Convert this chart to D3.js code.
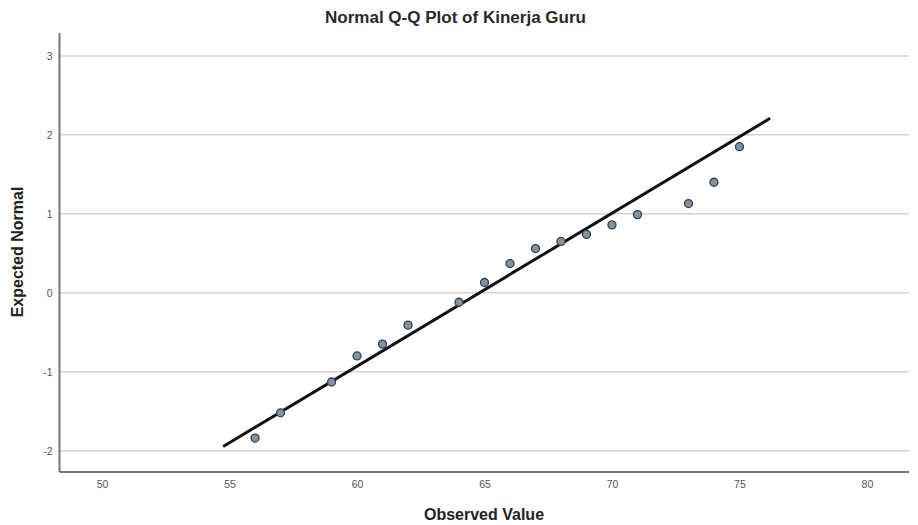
<!DOCTYPE html>
<html><head><meta charset="utf-8">
<script src="https://cdn.jsdelivr.net/npm/d3@7"></script>
<style>body{margin:0;background:#fff}svg{display:block}</style>
</head><body>
<svg id="c" width="918" height="525"></svg>
<script>
const observed = [56,57,59,60,61,62,64,65,66,67,68,69,70,71,73,74,75];
const expected = [-1.84,-1.52,-1.13,-0.80,-0.65,-0.41,-0.12,0.13,0.37,0.56,0.65,0.74,0.86,0.99,1.13,1.40,1.85];
const lineX = [54.75, 76.2];
const lineMean = 64.8, lineSd = 5.16;
const xTicks = [50,55,60,65,70,75,80];
const yTicks = [-2,-1,0,1,2,3];

const svg = d3.select("#c");
const L=59.5, R=909, T=33, B=472;
const x = d3.scaleLinear().domain([48.33,81.65]).range([L,R]);
const y = d3.scaleLinear().domain([-2.27,3.29]).range([B,T]);
const ff = "Arial, 'Liberation Sans', sans-serif";

// gridlines
svg.append("g").selectAll("line").data(yTicks).join("line")
  .attr("x1",L).attr("x2",R).attr("y1",d=>y(d)).attr("y2",d=>y(d))
  .attr("stroke","#d4d4d4").attr("stroke-width",1.5);

// axes
const xa = svg.append("g").attr("transform",`translate(0,${B})`)
  .call(d3.axisBottom(x).tickValues(xTicks).tickFormat(d=>String(d)).tickSize(0).tickPadding(9));
const ya = svg.append("g").attr("transform",`translate(${L},0)`)
  .call(d3.axisLeft(y).tickValues(yTicks).tickFormat(d=>String(d)).tickSize(0).tickPadding(7));
[xa,ya].forEach(a=>{
  a.select(".domain").attr("stroke","#777").attr("stroke-width",2);
  a.selectAll("text").attr("fill","#555").style("font-family",ff).style("font-size","10.5px");
});
ya.select(".domain").attr("d",`M0,${T}V${B}`);
xa.select(".domain").attr("d",`M${L},0H${R}`);

// reference line
svg.append("line")
  .attr("x1",x(lineX[0])).attr("y1",y((lineX[0]-lineMean)/lineSd))
  .attr("x2",x(lineX[1])).attr("y2",y((lineX[1]-lineMean)/lineSd))
  .attr("stroke","#111").attr("stroke-width",3);

// points
svg.append("g").selectAll("circle").data(observed).join("circle")
  .attr("cx",d=>x(d)).attr("cy",(d,i)=>y(expected[i])).attr("r",4)
  .attr("fill","#7d93a6").attr("stroke","#3a3f45").attr("stroke-width",1.3);

// title & labels
svg.append("text").attr("x",455.5).attr("y",23).attr("text-anchor","middle")
  .style("font-family",ff).style("font-size","16px").style("font-weight","bold").attr("fill","#2a2a2a")
  .attr("textLength",261).attr("lengthAdjust","spacingAndGlyphs")
  .text("Normal Q-Q Plot of Kinerja Guru");
svg.append("text").attr("x",484).attr("y",520).attr("text-anchor","middle")
  .style("font-family",ff).style("font-size","16px").style("font-weight","bold").attr("fill","#222")
  .text("Observed Value");
svg.append("text").attr("transform","translate(23,252) rotate(-90)").attr("text-anchor","middle")
  .style("font-family",ff).style("font-size","16px").style("font-weight","bold").attr("fill","#222")
  .text("Expected Normal");
</script>
</body></html>
